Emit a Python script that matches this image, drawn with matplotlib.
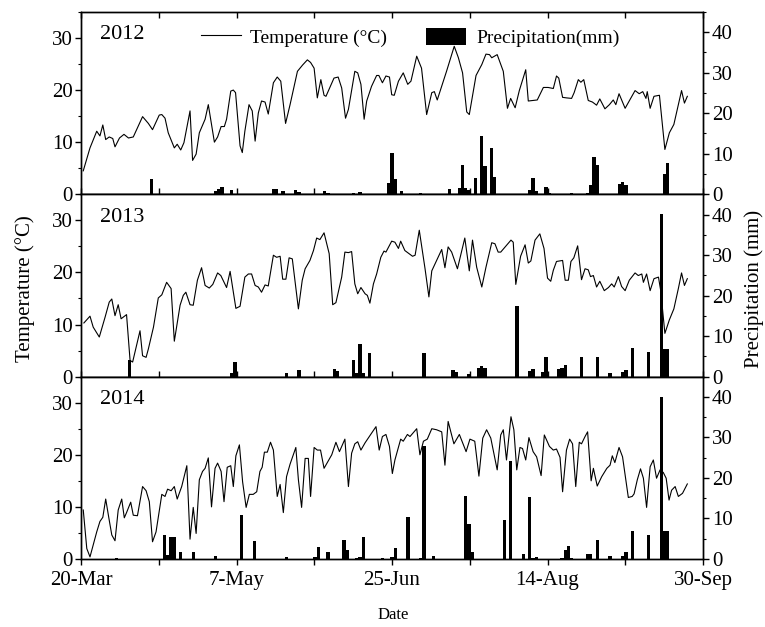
import numpy as np
import matplotlib
matplotlib.use("Agg")
import matplotlib.pyplot as plt
from matplotlib.lines import Line2D
from matplotlib.patches import Patch
from matplotlib.ticker import MultipleLocator

plt.rcParams['font.family'] = ['Liberation Serif', 'DejaVu Serif']

# ---- data (x = days after 20-Mar) ----
years = ['2012', '2013', '2014']

t_days_2012 = [0.7, 2.8, 4.9, 5.9, 6.8, 7.7, 8.8, 9.9, 10.6, 12.0, 13.4, 14.8, 16.3, 19.2, 21.0, 22.3,
               24.4, 25.2, 26.2, 27.2, 29.1, 30.0, 31.1, 32.1, 34.0, 34.8, 35.9, 36.9, 38.7, 39.7, 41.6,
               42.6, 43.7, 44.7, 45.4, 46.7, 47.5, 48.2, 49.6, 50.3, 51.1, 52.4, 53.4, 54.3, 55.3, 56.3,
               57.4, 58.4, 60.0, 61.2, 62.3, 63.8, 65.2, 67.5, 69.1, 70.6, 71.6, 72.7, 73.7, 74.8, 75.8,
               76.4, 78.9, 80.2, 81.3, 82.5, 83.4, 85.4, 86.3, 87.3, 88.3, 89.1, 90.6, 92.2, 92.9, 94.0,
               95.1, 96.2, 96.9, 97.7, 99.0, 100.5, 101.9, 102.9, 104.7, 106.2, 107.8, 109.4, 110.2, 111.1,
               114.0, 116.4, 117.7, 119.0, 120.3, 121.1, 123.2, 125.0, 126.3, 127.4, 128.1, 129.8, 131.7,
               133.0, 134.0, 135.4, 136.7, 138.7, 139.5, 142.3, 144.2, 145.7, 147.3, 148.3, 149.0, 150.2,
               151.4, 153.0, 153.8, 155.1, 155.9, 156.8, 158.2, 159.5, 160.8, 161.8, 163.4, 164.8, 166.0,
               166.8, 167.8, 169.7, 172.8, 174.1, 175.2, 176.2, 176.6, 177.5, 178.7, 180.4, 182.1, 183.5,
               184.9, 186.3, 187.3, 188.2, 189.1]
t_vals_2012 = [4.5, 8.9, 12.1, 11.2, 13.3, 10.5, 11.0, 10.7, 9.1, 10.8, 11.5, 10.8, 11.0, 14.9, 13.6, 12.4,
               15.2, 15.3, 14.6, 11.8, 8.9, 9.6, 8.5, 9.9, 16.0, 6.5, 7.7, 11.8, 14.4, 17.2, 10.0,
               11.0, 13.0, 13.0, 14.4, 19.8, 20.0, 19.5, 9.3, 8.0, 12.1, 17.2, 16.0, 10.2, 15.6, 17.9,
               17.7, 15.4, 21.4, 22.5, 21.7, 13.6, 17.2, 23.6, 24.8, 25.8, 25.3, 24.2, 18.5, 22.0, 19.0,
               18.8, 22.3, 22.5, 20.4, 14.6, 16.3, 23.6, 23.3, 21.1, 14.4, 17.9, 20.7, 22.8, 22.8, 21.4,
               22.7, 22.5, 19.1, 19.0, 21.7, 23.3, 21.1, 21.7, 26.5, 24.2, 15.3, 19.5, 19.7, 18.1,
               23.6, 28.4, 26.2, 23.3, 15.8, 15.3, 22.8, 24.9, 26.9, 26.8, 26.2, 26.8, 23.6,
               16.5, 18.4, 16.6, 19.9, 23.9, 17.9, 18.1, 20.5, 20.5, 20.3, 22.7, 22.3, 18.6,
               18.5, 18.4, 19.5, 22.0, 21.5, 22.0, 18.0, 17.7, 17.1, 18.3, 16.4, 17.2, 18.1,
               17.2, 19.3, 16.5, 19.9, 19.3, 19.7, 18.4, 19.7, 16.5, 18.8, 19.0, 8.6, 11.8,
               13.4, 17.2, 19.9, 17.5, 18.8]

t_days_2013 = [0.9, 2.8, 3.8, 5.7, 7.5, 8.8, 9.6, 10.6, 11.6, 12.5, 14.2, 15.3, 16.1, 18.4, 19.2, 20.3,
               21.0, 22.6, 24.1, 25.2, 26.7, 28.1, 29.1, 30.9, 31.9, 32.7, 34.0, 35.0, 36.3, 37.6, 38.7,
               40.0, 41.1, 42.6, 43.6, 45.4, 46.5, 48.3, 49.6, 51.1, 52.2, 53.2, 54.3, 55.3, 56.3, 57.4,
               58.4, 60.0, 61.0, 62.1, 62.9, 63.9, 64.9, 65.9, 67.8, 69.0, 69.9, 71.4, 72.5, 73.5, 74.5,
               75.8, 77.4, 78.5, 79.5, 81.3, 82.3, 83.4, 84.4, 85.4, 86.3, 87.3, 88.6, 89.3, 90.1, 91.2,
               92.2, 93.5, 94.5, 95.1, 96.9, 97.9, 99.0, 99.7, 101.0, 102.1, 103.4, 104.2, 105.5, 107.3,
               108.5, 109.4, 110.9, 112.5, 113.5, 114.5, 115.6, 117.4, 119.7, 121.1, 122.1, 123.4, 125.0,
               126.3, 128.1, 129.1, 130.1, 130.9, 134.1, 134.8, 135.6, 137.1, 138.5, 139.5, 140.3, 141.6,
               143.1, 144.4, 145.5, 146.5, 147.3, 148.3, 150.2, 151.0, 152.0, 152.8, 153.7, 154.9, 156.1,
               157.2, 158.2, 158.9, 159.8, 160.8, 161.8, 163.2, 164.5, 165.5, 166.3, 167.6, 168.6, 169.7,
               171.0, 172.8, 173.8, 174.9, 175.4, 176.4, 177.5, 178.7, 180.1, 180.8, 182.1, 183.5, 184.9,
               186.3, 187.3, 188.2, 189.1]
t_vals_2013 = [10.3, 11.6, 9.5, 7.6, 11.4, 14.3, 14.9, 11.7, 13.8, 11.1, 11.9, 3.1, 2.8, 8.8, 4.0, 3.7,
               5.3, 9.5, 15.1, 15.7, 18.1, 16.9, 6.8, 13.7, 15.6, 16.2, 13.8, 13.7, 18.5, 20.9, 17.5,
               17.0, 17.7, 19.9, 19.4, 17.1, 20.2, 13.1, 13.5, 19.1, 19.7, 19.7, 17.5, 17.2, 16.2, 17.6,
               17.4, 23.3, 22.9, 23.1, 18.7, 18.7, 22.8, 22.6, 13.0, 18.5, 20.7, 22.3, 24.2, 26.6, 26.3,
               27.6, 23.6, 13.8, 14.2, 19.1, 23.9, 23.8, 24.0, 17.8, 15.9, 17.1, 15.9, 15.6, 14.1, 17.8,
               19.7, 22.9, 24.1, 23.9, 26.0, 25.8, 24.6, 26.0, 24.2, 23.7, 23.1, 23.3, 28.1, 20.7,
               15.3, 20.3, 22.3, 24.4, 20.9, 24.9, 23.9, 20.7, 26.6, 20.3, 26.2, 21.0, 17.2,
               21.0, 25.7, 25.5, 23.9, 23.9, 26.2, 25.8, 17.7, 23.1, 25.3, 21.8, 22.2, 26.2,
               27.4, 24.6, 18.9, 18.3, 20.4, 22.1, 22.3, 18.5, 18.5, 22.1, 22.8, 25.1, 18.6,
               20.7, 20.5, 19.2, 19.4, 17.2, 18.3, 16.5, 17.1, 17.8, 17.2, 19.2, 17.3, 16.5,
               18.5, 19.9, 19.4, 19.7, 18.1, 19.7, 16.5, 18.8, 19.1, 16.5, 8.3, 10.9, 13.0,
               16.9, 19.9, 17.5, 18.8]

t_days_2014 = [0.7, 1.8, 2.8, 3.8, 4.9, 5.9, 6.8, 7.7, 8.7, 9.6, 10.6, 11.6, 12.7, 13.5, 14.2, 15.5,
               16.3, 17.6, 19.2, 20.3, 21.3, 22.3, 23.4, 25.2, 26.2, 27.0, 28.1, 29.1, 30.0, 31.4, 33.0,
               34.0, 35.0, 35.9, 36.9, 37.9, 38.7, 39.7, 40.7, 41.8, 42.6, 43.7, 44.6, 45.6, 46.7, 47.5,
               48.3, 49.4, 50.4, 51.5, 52.5, 53.7, 54.8, 55.8, 56.5, 57.2, 58.1, 59.1, 60.0, 61.2, 62.1,
               63.1, 64.1, 65.2, 67.0, 67.8, 68.8, 69.9, 70.9, 71.6, 72.7, 73.7, 74.7, 75.8, 77.3, 78.2,
               79.5, 80.6, 82.3, 83.4, 84.4, 85.4, 86.3, 87.3, 88.6, 89.6, 90.9, 92.0, 93.0, 94.0, 95.1,
               96.2, 97.1, 97.9, 99.7, 100.5, 101.8, 102.6, 104.7, 105.7, 106.8, 108.0, 109.4, 110.9,
               112.5, 113.5, 114.5, 116.3, 118.0, 120.1, 121.3, 122.8, 124.1, 125.3, 126.5, 127.8, 129.8,
               130.9, 131.7, 132.7, 134.1, 135.0, 135.9, 136.9, 137.7, 138.7, 139.7, 141.0, 142.1, 143.5,
               144.5, 146.1, 147.3, 148.3, 149.4, 150.2, 151.4, 152.4, 153.3, 154.3, 155.4, 156.1, 157.2,
               158.0, 159.1, 159.8, 161.0, 162.4, 164.0, 165.0, 165.7, 166.5, 167.8, 168.9, 170.7, 171.9,
               172.5, 173.5, 174.5, 175.4, 176.4, 177.5, 178.5, 179.5, 180.6, 181.6, 182.5, 183.4, 184.2,
               185.3, 186.3, 187.6, 189.1]
t_vals_2014 = [9.4, 2.0, 0.4, 2.7, 5.2, 7.2, 8.0, 11.5, 7.8, 4.6, 3.5, 9.4, 11.5, 7.9, 8.9, 10.9,
               8.4, 8.3, 13.9, 13.1, 11.0, 3.3, 5.2, 12.4, 12.0, 13.4, 13.1, 13.9, 11.5, 13.9, 17.9,
               3.8, 9.9, 4.9, 15.2, 16.8, 17.4, 19.4, 10.0, 17.4, 18.4, 16.8, 11.0, 17.6, 17.9, 13.9,
               19.8, 21.9, 14.8, 9.9, 12.4, 12.4, 12.9, 16.8, 17.6, 20.5, 20.5, 22.4, 20.9, 12.0, 14.3,
               8.9, 15.8, 18.2, 21.4, 15.2, 9.9, 19.3, 19.3, 12.0, 21.4, 20.9, 20.9, 17.4, 19.0, 20.0,
               22.4, 20.6, 23.0, 13.9, 20.3, 22.1, 22.5, 20.9, 22.3, 23.2, 24.4, 25.4, 20.9, 23.5, 23.9,
               21.6, 16.4, 19.0, 23.0, 22.6, 23.9, 23.5, 25.0, 20.0, 22.6, 23.0, 25.0, 24.8,
               24.4, 18.0, 26.4, 22.1, 23.9, 20.6, 23.0, 22.6, 15.9, 23.2, 24.8, 23.2, 17.1,
               23.8, 24.8, 19.0, 27.3, 24.8, 17.1, 21.4, 21.2, 19.0, 23.3, 20.6, 19.6, 16.0,
               23.8, 21.6, 20.9, 21.1, 19.5, 12.9, 20.9, 23.0, 22.1, 13.9, 22.4, 22.1, 23.5,
               24.4, 15.0, 17.4, 14.0, 15.8, 17.4, 18.0, 19.8, 18.5, 21.4, 19.6, 11.8, 12.0,
               12.5, 15.2, 17.3, 15.5, 9.9, 17.7, 19.0, 15.5, 17.1, 16.6, 15.5, 11.3, 13.2,
               13.9, 12.0, 12.6, 14.4]

p_days_2012 = [22, 42, 43, 44, 47, 60, 61, 63, 67, 68, 76, 77, 85, 87, 96, 97, 98, 100, 106, 115, 118,
               119, 120, 121, 123, 125, 126, 128, 129, 140, 141, 142, 145, 146, 153, 158, 159, 160, 161,
               168, 169, 170, 182, 183]
p_vals_2012 = [3.7, 0.8, 1.2, 1.9, 1.1, 1.2, 1.2, 0.8, 1.1, 0.6, 0.8, 0.4, 0.25, 0.6, 2.9, 10.3, 3.7, 0.7,
               0.2, 1.2, 1.5, 7.2, 1.5, 1.0, 4.0, 14.4, 7.0, 11.3, 4.3, 1.1, 4.1, 0.8, 1.8, 0.25, 0.25,
               0.4, 2.3, 9.3, 7.2, 2.5, 3.1, 2.3, 5.1, 7.8]

p_days_2013 = [15, 47, 48, 64, 68, 79, 80, 85, 86, 87, 88, 90, 107, 116, 117, 121, 124, 125, 126, 136,
               140, 141, 144, 145, 149, 150, 151, 156, 161, 165, 169, 170, 172, 177, 181, 182, 183]
p_vals_2013 = [4.0, 0.9, 3.7, 0.9, 1.7, 1.9, 1.5, 4.2, 0.9, 8.1, 0.9, 5.8, 5.8, 1.6, 1.1, 0.7, 2.1, 2.7,
               2.1, 17.4, 1.3, 1.9, 1.1, 4.9, 1.9, 2.1, 2.9, 4.9, 4.9, 0.9, 1.1, 1.6, 7.0, 6.0, 40.2,
               6.8, 6.8]

p_days_2014 = [11, 22, 26, 27, 28, 29, 31, 35, 42, 50, 54, 64, 73, 74, 77, 82, 83, 86, 87, 88, 94, 97,
               98, 102, 106, 107, 110, 120, 121, 122, 132, 134, 138, 140, 141, 142, 150, 151, 152, 153,
               158, 159, 161, 165, 169, 170, 172, 177, 181, 182, 183]
p_vals_2014 = [0.2, 0.1, 5.8, 1.0, 5.3, 5.3, 1.6, 1.8, 0.7, 10.8, 4.4, 0.4, 0.6, 3.0, 1.8, 4.8, 2.2, 0.3,
               0.6, 5.3, 0.2, 0.4, 2.6, 10.3, 0.3, 27.9, 0.8, 15.5, 8.6, 1.6, 9.6, 24.2, 1.2, 15.2, 0.2,
               0.4, 0.3, 2.2, 3.3, 0.2, 1.2, 1.2, 4.8, 0.8, 0.8, 1.6, 6.9, 5.9, 40.0, 6.9, 6.9]

temp_days = [t_days_2012, t_days_2013, t_days_2014]
temp_vals = [t_vals_2012, t_vals_2013, t_vals_2014]
prec_days = [p_days_2012, p_days_2013, p_days_2014]
prec_vals = [p_vals_2012, p_vals_2013, p_vals_2014]

date_labels = ['20-Mar', '7-May', '25-Jun', '14-Aug', '30-Sep']
n_days = 194

# ---- figure ----
fig = plt.figure(figsize=(7.65, 6.27), dpi=100)
left, right, top, bottom = 0.1059, 0.919, 0.981, 0.1085
h = (top - bottom) / 3

tick_fs = 15
for i in range(3):
    ax = fig.add_axes([left, top - (i + 1) * h, right - left, h])
    ax2 = ax.twinx()

    ax.plot(temp_days[i], temp_vals[i], color='black', lw=0.8)
    ax2.bar(prec_days[i], prec_vals[i], width=1.0, color='black', linewidth=0)

    ax.set_xlim(0, n_days)
    ax.set_ylim(0, 35)
    ax2.set_ylim(0, 45)
    ax.set_yticks([0, 10, 20, 30])
    ax.yaxis.set_minor_locator(MultipleLocator(5))
    ax2.set_yticks([0, 10, 20, 30, 40])
    ax2.yaxis.set_minor_locator(MultipleLocator(5))

    ax.set_xticks(np.linspace(0, n_days, 5))
    ax.set_xticks(np.linspace(0, n_days, 9), minor=True)

    for a in (ax, ax2):
        for s in a.spines.values():
            s.set_linewidth(1.0)

    ax.tick_params(axis='y', which='major', direction='out', length=4.5, width=1.0,
                   labelsize=tick_fs, pad=1.5)
    ax.tick_params(axis='y', which='minor', direction='out', length=2.5, width=0.8)
    ax2.tick_params(axis='y', which='major', direction='out', length=4.5, width=1.0,
                    labelsize=tick_fs, pad=2)
    ax2.tick_params(axis='y', which='minor', direction='out', length=2.5, width=0.8)

    if i == 0:
        ax.tick_params(axis='x', which='both', direction='in', top=True, bottom=True,
                       labelbottom=False, length=4, width=1.0)
    elif i == 1:
        ax.tick_params(axis='x', which='both', direction='in', top=False, bottom=True,
                       labelbottom=False, length=4, width=1.0)
    else:
        ax.tick_params(axis='x', which='both', direction='out', top=False, bottom=True,
                       length=4, width=1.0, labelsize=tick_fs, pad=5)
        ax.set_xticklabels(date_labels)

    ax.text(0.03, 0.875, years[i], transform=ax.transAxes, fontsize=16,
            ha='left', va='center')

    if i == 0:
        handles = [Line2D([], [], color='black', lw=0.8), Patch(facecolor='black')]
        ax.legend(handles, ['Temperature (°C)', 'Precipitation(mm)'], loc='center',
                  bbox_to_anchor=(0.529, 0.86), ncol=2, frameon=False, fontsize=14,
                  handlelength=2.05, handleheight=1.0, handletextpad=0.5,
                  columnspacing=2.0, borderpad=0)

fig.text(25 / 765, 1 - 289 / 627, 'Temperature (°C)', rotation=90, ha='center',
         va='center', fontsize=15)
fig.text(754 / 765, 1 - 289 / 627, 'Precipitation (mm)', rotation=90, ha='center',
         va='center', fontsize=15)
fig.text(393 / 765, 1 - 615 / 627, 'Date', ha='center', va='center', fontsize=12)

fig.savefig('out.png', dpi=100)
